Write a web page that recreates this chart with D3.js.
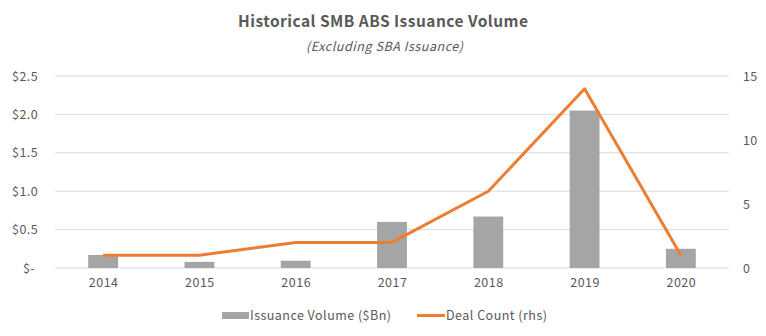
<!DOCTYPE html>
<html><head><meta charset="utf-8">
<script src="https://cdn.jsdelivr.net/npm/d3@7"></script>
<style>body{margin:0;background:#fff}svg{display:block}</style>
</head><body>
<svg id="c" width="766" height="336"></svg>
<script>
const years = ["2014","2015","2016","2017","2018","2019","2020"];
const volume = [0.17, 0.08, 0.095, 0.60, 0.67, 2.05, 0.25];
const dealCount = [1, 1, 2, 2, 6, 14, 1];
const leftTicks = [0, 0.5, 1.0, 1.5, 2.0, 2.5];
const rightTicks = [0, 5, 10, 15];
const title = "Historical SMB ABS Issuance Volume";
const subtitle = "(Excluding SBA Issuance)";
const legendLabels = ["Issuance Volume ($Bn)", "Deal Count (rhs)"];

const font = "'Noto Sans CJK JP', 'Noto Sans', sans-serif";
const txt = "#595959";
const svg = d3.select("#c");
const m = {l:55, r:729, t:76, b:268};

// spread a text element horizontally to a target width
function fitWidth(sel, target) {
  sel.each(function() {
    const n = this.textContent.length;
    const w = this.getComputedTextLength();
    if (n > 1) d3.select(this).attr("letter-spacing", (target - w) / (n - 1));
  });
}

const x = d3.scaleBand().domain(years).range([m.l, m.r]).paddingInner(0.69).paddingOuter(0.345);
const xc = d3.scalePoint().domain(years).range([m.l, m.r]).padding(0.5);
const yL = d3.scaleLinear().domain([0, 2.5]).range([m.b, m.t]);
const yR = d3.scaleLinear().domain([0, 15]).range([m.b, m.t]);

// gridlines
svg.append("g").selectAll("line").data(leftTicks).join("line")
  .attr("x1", m.l).attr("x2", m.r)
  .attr("y1", d => yL(d)).attr("y2", d => yL(d))
  .attr("stroke", "#D9D9D9").attr("stroke-width", 1);

// left axis
const gl = svg.append("g").attr("transform", `translate(${m.l-17},0)`)
  .call(d3.axisLeft(yL).tickValues(leftTicks).tickSize(0).tickPadding(0)
    .tickFormat(d => d === 0 ? "$-" : "$" + d3.format(".1f")(d)));
gl.select(".domain").remove();
gl.selectAll("text").attr("font-family", font).attr("font-size", 12.5).attr("fill", txt)
  .attr("letter-spacing", 0.4).attr("dx", d => d === 0 ? -3 : 0);

// right axis
const gr = svg.append("g").attr("transform", `translate(743,0)`)
  .call(d3.axisRight(yR).tickValues(rightTicks).tickSize(0).tickPadding(0));
gr.select(".domain").remove();
gr.selectAll("text").attr("font-family", font).attr("font-size", 12.5).attr("fill", txt)
  .attr("letter-spacing", 0.4);

// x axis
const gx = svg.append("g").attr("transform", `translate(0,${m.b})`)
  .call(d3.axisBottom(xc).tickSize(0).tickPadding(10));
gx.select(".domain").remove();
gx.selectAll("text").attr("font-family", font).attr("font-size", 12.5).attr("fill", txt)
  .attr("letter-spacing", 0.5);

// bars
svg.append("g").selectAll("rect").data(years).join("rect")
  .attr("x", d => x(d)).attr("width", x.bandwidth())
  .attr("y", (d,i) => yL(volume[i])).attr("height", (d,i) => yL(0) - yL(volume[i]))
  .attr("fill", "#A5A5A5");

// line
svg.append("path").datum(dealCount)
  .attr("d", d3.line().x((d,i) => xc(years[i])).y(d => yR(d)))
  .attr("fill", "none").attr("stroke", "#ED7D31").attr("stroke-width", 3)
  .attr("stroke-linejoin", "round");

// titles
svg.append("text").attr("x", 238).attr("y", 27)
  .attr("font-family", font).attr("font-size", 15.5).attr("font-weight", "bold").attr("fill", txt)
  .text(title).call(fitWidth, 290);
svg.append("text").attr("x", 306).attr("y", 51)
  .attr("font-family", font).attr("font-size", 12.5).attr("font-style", "italic").attr("fill", txt)
  .text(subtitle).call(fitWidth, 157);

// legend
const lg = svg.append("g").attr("font-family", font).attr("font-size", 12.5).attr("fill", txt);
lg.append("rect").attr("x", 222).attr("y", 312).attr("width", 27).attr("height", 7).attr("fill", "#A5A5A5");
lg.append("text").attr("x", 250).attr("y", 320).text(legendLabels[0]).call(fitWidth, 141);
lg.append("line").attr("x1", 417).attr("x2", 445).attr("y1", 315.5).attr("y2", 315.5)
  .attr("stroke", "#ED7D31").attr("stroke-width", 3);
lg.append("text").attr("x", 446).attr("y", 320).text(legendLabels[1]).call(fitWidth, 101);
</script>
</body></html>
